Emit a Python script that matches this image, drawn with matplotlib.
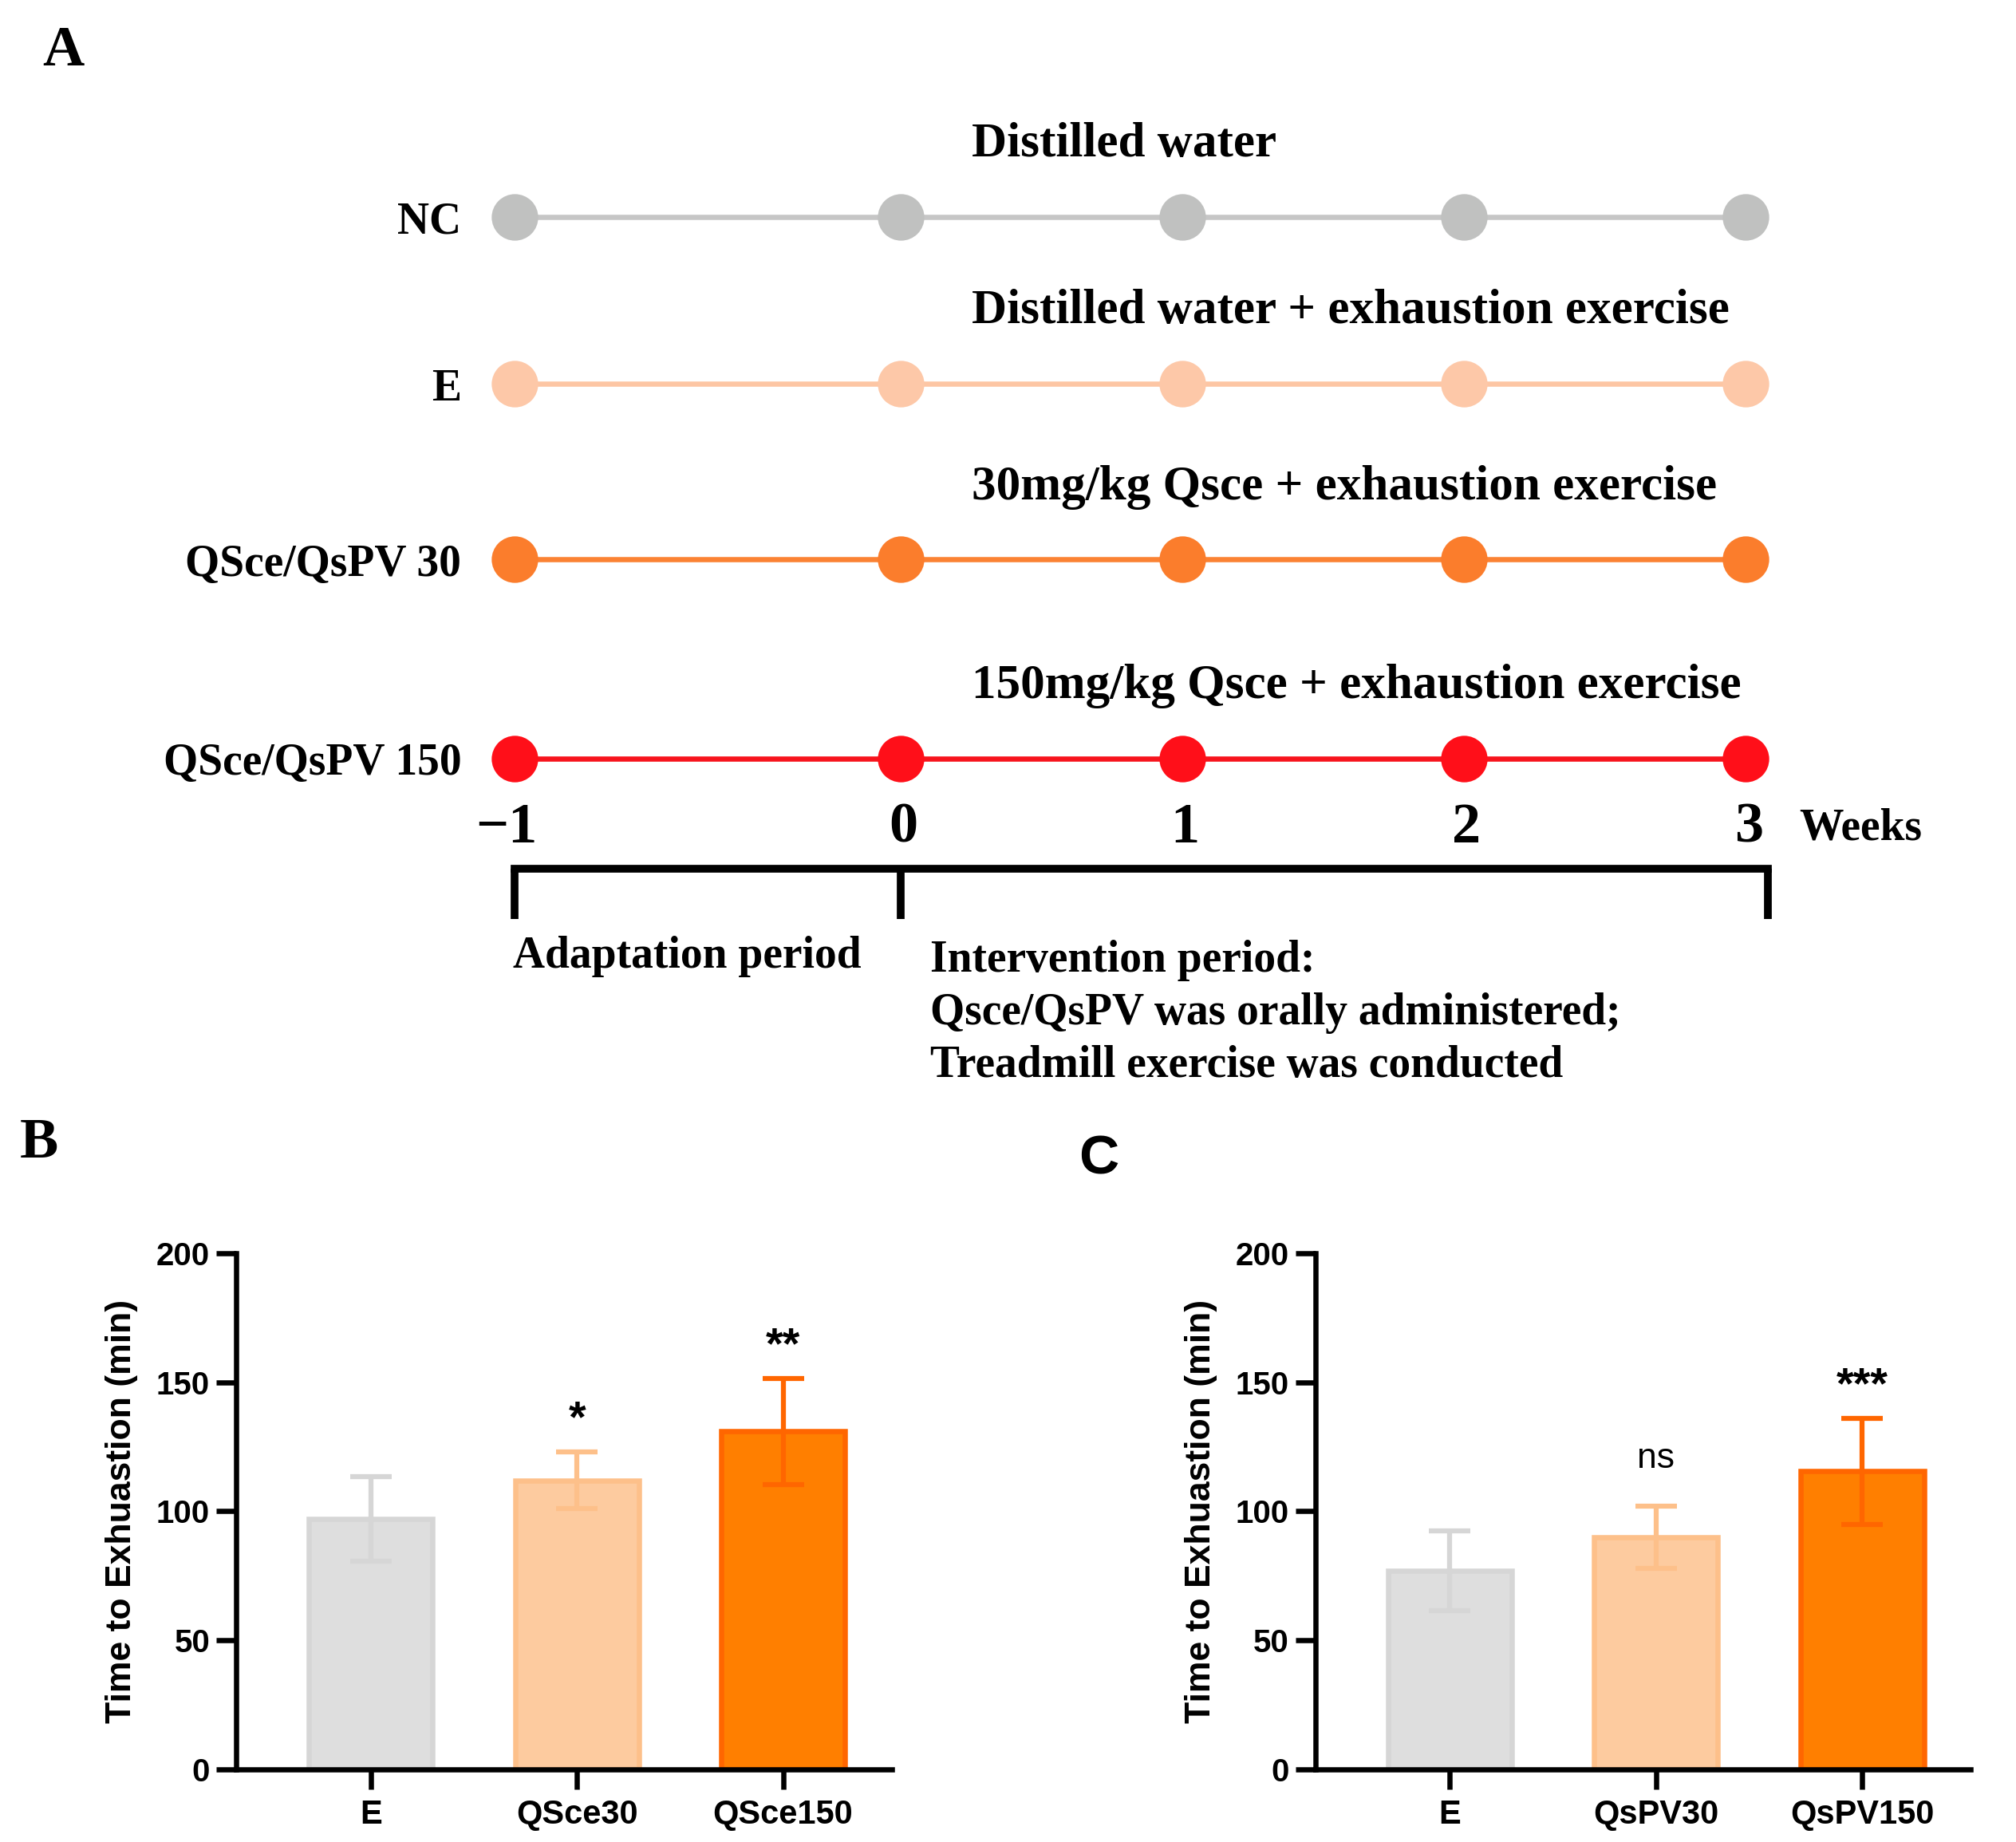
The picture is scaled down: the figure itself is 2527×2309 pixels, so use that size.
import matplotlib.pyplot as plt
import numpy as np

# ---- data ----
groups = ["NC", "E", "QSce/QsPV 30", "QSce/QsPV 150"]
treatments = ["Distilled water",
              "Distilled water + exhaustion exercise",
              "30mg/kg Qsce + exhaustion exercise",
              "150mg/kg Qsce + exhaustion exercise"]
weeks = [-1, 0, 1, 2, 3]
week_labels = ["\u22121", "0", "1", "2", "3"]
dot_colors = ["#c0c1c0", "#fdc8a8", "#fb7d2c", "#ff0f19"]
line_colors = ["#c6c6c6", "#fdc6a4", "#fb8233", "#f7141d"]

labels_b = ["E", "QSce30", "QSce150"]
mean_b = [97, 112, 131]
err_b = [16.5, 11, 20.5]
sig_b = ["", "*", "**"]

labels_c = ["E", "QsPV30", "QsPV150"]
mean_c = [77, 90, 115.5]
err_c = [15.5, 12, 20.5]
sig_c = ["", "ns", "***"]

bar_fill = ["#dedede", "#fdcb9f", "#ff7f00"]
bar_edge = ["#d6d6d6", "#fdc08a", "#ff6600"]

SERIF = "Liberation Serif"
SANS = "Liberation Sans"

W, H = 2527, 2309
fig = plt.figure(figsize=(W / 100, H / 100), dpi=100)

# reference layout units (1560 wide)
RW = 1560.0
RH = RW * H / W

# ---- panel A: timeline (layout axes in reference units) ----
axA = fig.add_axes([0, 0, 1, 1])
axA.set_xlim(0, RW)
axA.set_ylim(RH, 0)
axA.axis("off")


def week_x(w):
    # adaptation week is drawn wider than intervention weeks
    return np.interp(w, [-1, 0, 3], [398, 697, 1351])


row_y = [168, 297, 433, 587]
wx = week_x(np.array(weeks, dtype=float))
for i, g in enumerate(groups):
    axA.plot(wx, [row_y[i]] * len(weeks), "-", color=line_colors[i], lw=4.7,
             zorder=2)
    axA.plot(wx, [row_y[i]] * len(weeks), "o", color=dot_colors[i], ms=42,
             mec="none", zorder=3)
    axA.text(357, row_y[i] + 4, g, ha="right", va="center", family=SERIF,
             fontweight="bold", fontsize=40)
    axA.text(752, row_y[i] - 56, treatments[i], ha="left", va="center",
             family=SERIF, fontweight="bold", fontsize=44)

axA.text(33, 40, "A", ha="left", va="center", family=SERIF, fontweight="bold",
         fontsize=52)

for w, lab in zip(weeks, week_labels):
    axA.text(week_x(w) + (-6 if w < 0 else 2), 641, lab, ha="center", va="center",
             family=SERIF, fontweight="bold", fontsize=52)
axA.text(1392, 641, "Weeks", ha="left", va="center", family=SERIF,
         fontweight="bold", fontsize=40)

# period bracket
x_end = week_x(3) + 17
axA.plot([week_x(-1), x_end], [672, 672], color="black", lw=7,
         solid_capstyle="projecting")
for xb in [week_x(-1), week_x(0), x_end]:
    axA.plot([xb, xb], [672, 711], color="black", lw=7, solid_capstyle="butt")

axA.text(397, 740, "Adaptation period", ha="left", va="center", family=SERIF,
         fontweight="bold", fontsize=40)
for k, line in enumerate(["Intervention period:",
                          "Qsce/QsPV was orally administered;",
                          "Treadmill exercise was conducted"]):
    axA.text(720, 743 + 41 * k, line, ha="left", va="center", family=SERIF,
             fontweight="bold", fontsize=40)

axA.text(15, 885, "B", ha="left", va="center", family=SERIF, fontweight="bold",
         fontsize=52)
axA.text(835, 897, "C", ha="left", va="center", family=SANS, fontweight="bold",
         fontsize=50)


# ---- panels B and C: bar charts ----
def bar_panel(rect, labels, means, errs, sigs):
    ax = fig.add_axes(rect)
    x = np.arange(len(labels))
    ax.bar(x, means, width=0.6, color=bar_fill, edgecolor=bar_edge,
           linewidth=4.7, zorder=1)
    for i in range(len(labels)):
        ax.errorbar(x[i], means[i], yerr=errs[i], fmt="none", ecolor=bar_edge[i],
                    elinewidth=4.5, capsize=19, capthick=4.5, zorder=3)
        if sigs[i]:
            is_ns = sigs[i] == "ns"
            off = 15 if is_ns else 8
            ax.text(x[i], means[i] + errs[i] + off, sigs[i], ha="center",
                    va="baseline", family=SANS,
                    fontweight="normal" if is_ns else "bold",
                    fontsize=32 if is_ns else 40)
    ax.set_xlim(-0.652, 2.527)
    ax.set_ylim(0, 200)
    ax.set_yticks([0, 50, 100, 150, 200])
    ax.set_xticks(x)
    ax.set_xticklabels(labels)
    for s in ["top", "right"]:
        ax.spines[s].set_visible(False)
    for s in ["left", "bottom"]:
        ax.spines[s].set_linewidth(4.7)
        ax.spines[s].set_zorder(4)
    ax.tick_params(axis="both", width=4.7, length=18)
    ax.tick_params(axis="y", pad=6, labelsize=29)
    ax.tick_params(axis="x", pad=9, labelsize=30)
    for t in ax.get_xticklabels() + ax.get_yticklabels():
        t.set_family(SANS)
        t.set_fontweight("bold")
    ax.set_ylabel("Time to Exhuastion (min)", family=SANS, fontweight="bold",
                  fontsize=32)
    ax.yaxis.set_label_coords(-0.15, 0.5)
    return ax


def frac_rect(x0, x1, ytop, ybot):
    return [x0 / RW, 1 - ybot / RH, (x1 - x0) / RW, (ybot - ytop) / RH]


bar_panel(frac_rect(183, 690, 970, 1369), labels_b, mean_b, err_b, sig_b)
bar_panel(frac_rect(1018, 1525, 970, 1369), labels_c, mean_c, err_c, sig_c)

fig.savefig("out.png", dpi=100, facecolor="white")
